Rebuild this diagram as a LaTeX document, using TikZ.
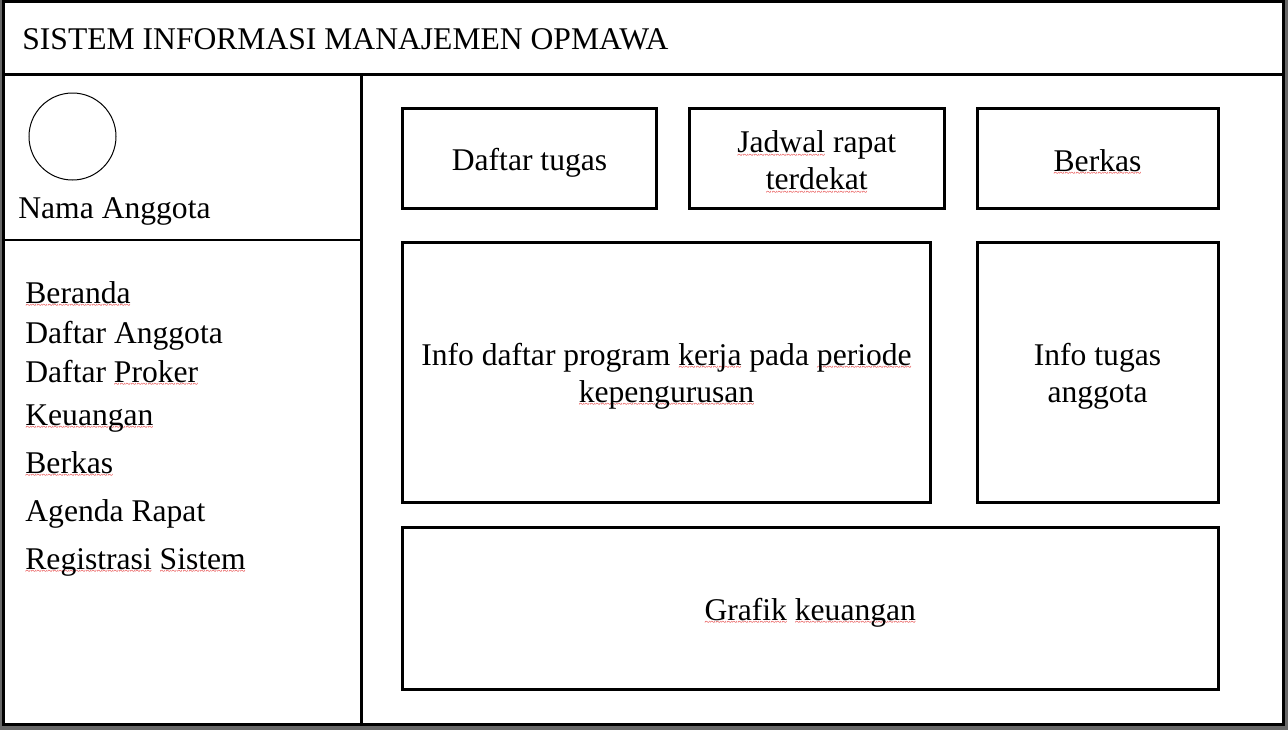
\documentclass[tikz,border=0pt]{standalone}
\usepackage{fontspec}
\setmainfont{Liberation Serif}
\usetikzlibrary{positioning}
\definecolor{framegray}{RGB}{104,104,104}
\definecolor{spellred}{RGB}{225,30,30}
\newcommand{\typo}[1]{\setbox0\hbox{#1}\rlap{\lower2.6pt\hbox to \wd0{\color{spellred}\fontsize{5}{5}\selectfont\xleaders\hbox{\char`\~}\hfill}}\box0\relax}
\tikzstyle{panel} = [rectangle, draw, line width=1.5pt, inner sep=0pt, outer sep=0pt]
\tikzstyle{caption} = [inner sep=0pt, align=center, font=\fontsize{15.8}{18.5}\selectfont]
\tikzstyle{menu} = [anchor=base west, inner sep=0pt, font=\fontsize{15.8}{18.5}\selectfont]
\tikzstyle{avatar} = [circle, draw, line width=0.5pt, inner sep=0pt, minimum size=43.5pt]

\begin{document}
\begin{tikzpicture}[x=0.5pt, y=-0.5pt]
    \useasboundingbox (0,0) rectangle (1288,730);
    \fill[framegray] (0,0) rectangle (1288,730);
    \draw[line width=1.5pt, fill=white] (3,1.5) rectangle (1283.5,724.5);
    \draw[line width=1.5pt] (3,74) -- (1283.5,74);
    \draw[line width=1.5pt] (361.5,74) -- (361.5,724.5);
    \draw[line width=1pt] (3,240) -- (361.5,240);

    \node[menu] (title) at (22,49) {SISTEM INFORMASI MANAJEMEN OPMAWA};

    % profil
    \node[avatar] (foto) at (72.5,136.5) {};
    \node[menu] (nama) at (18,218) {Nama Anggota};

    % menu samping
    \node[menu] (beranda) at (25,303.5) {\typo{Beranda}};
    \node[menu] (anggota) at (25,343) {Daftar Anggota};
    \node[menu] (proker) at (25,382.5) {Daftar \typo{Proker}};
    \node[menu] (keuangan) at (25,425) {\typo{Keuangan}};
    \node[menu] (berkasMenu) at (25,473.5) {\typo{Berkas}};
    \node[menu] (rapat) at (25,521.5) {Agenda Rapat};
    \node[menu] (registrasi) at (25,569) {\typo{Registrasi} \typo{Sistem}};

    % isi beranda
    \node[panel, minimum width=127pt, minimum height=50pt] (tugas) at (529.5,158.5) {};
    \node[panel, minimum width=127.25pt, minimum height=50pt, right=16.5pt of tugas] (jadwal) {};
    \node[panel, minimum width=120.5pt, minimum height=50pt, right=16.5pt of jadwal] (berkas) {};

    \node[panel, minimum width=264pt, minimum height=130pt, anchor=north west] (program)
        at ([yshift=-16.75pt]tugas.south west) {};
    \node[panel, minimum width=120.5pt, minimum height=130pt, anchor=north west] (infoTugas)
        at ([yshift=-16.75pt]berkas.south west) {};

    \node[panel, minimum width=407.75pt, minimum height=81pt, anchor=north west] (grafik)
        at ([yshift=-12.5pt]program.south west) {};

    % teks panel
    \node[caption] (tugasText) at ([yshift=-2.25pt]tugas.center) {Daftar tugas};
    \node[caption] (jadwalText) at ([yshift=-2.25pt]jadwal.center) {\typo{Jadwal} rapat\\ \typo{terdekat}};
    \node[caption] (berkasText) at ([yshift=-2.25pt]berkas.center) {\typo{Berkas}};
    \node[caption] (programText) at ([yshift=-2pt]program.center) {Info daftar program \typo{kerja} pada \typo{periode}\\ \typo{kepengurusan}};
    \node[caption] (infoTugasText) at ([yshift=-2pt]infoTugas.center) {Info tugas\\ anggota};
    \node[caption] (grafikText) at ([yshift=-2.25pt]grafik.center) {\typo{Grafik} \typo{keuangan}};
\end{tikzpicture}
\end{document}
